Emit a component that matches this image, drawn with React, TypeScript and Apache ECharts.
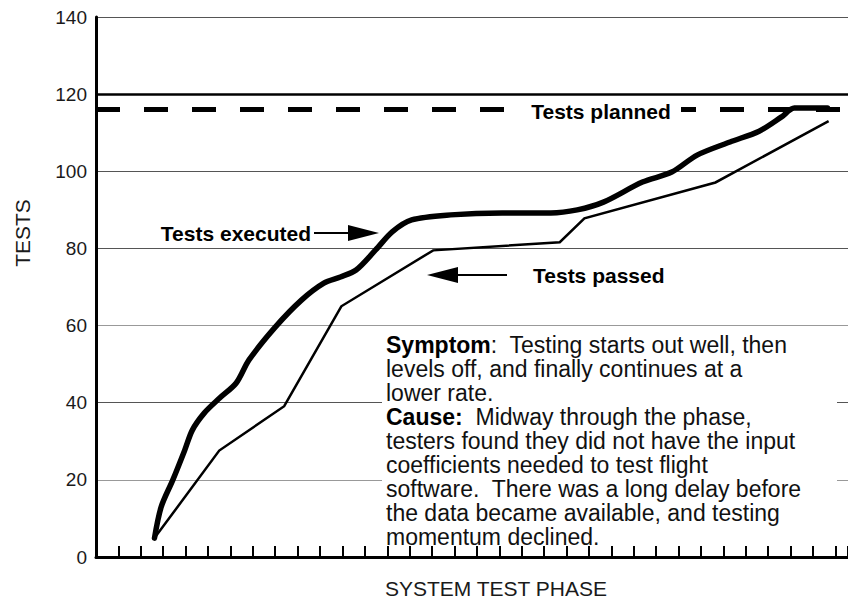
import React, { useEffect, useRef } from 'react';
import * as echarts from 'echarts';

// ---- data ----
const yTicks = [0, 20, 40, 60, 80, 100, 120, 140];
const plannedLevel = 116;
const ceilingLevel = 120;

// [phase position, tests]
const testsExecuted: [number, number][] = [
  [2.61, 4.9], [2.91, 13], [3.43, 20], [3.96, 27.7], [4.3, 32.9], [4.83, 37.3],
  [5.52, 41.2], [6.26, 45.1], [6.83, 51.1], [8.0, 59.6], [9.17, 66.6], [10.17, 71],
  [10.91, 72.6], [11.61, 74.4], [12.48, 79.6], [13.22, 84.3], [14.09, 87.4],
  [15.83, 88.7], [18.13, 89.2], [20.3, 89.2], [21.48, 90], [22.65, 92], [24.39, 97.2],
  [25.7, 99.8], [26.83, 104.2], [28.3, 107.6], [29.6, 110.4], [30.6, 114.1],
  [31.17, 116.4], [32.65, 116.4],
];

const testsPassed: [number, number][] = [
  [2.61, 4.9], [5.5, 27.6], [8.4, 39.1], [10.95, 65], [15.05, 79.5], [20.7, 81.6],
  [21.8, 87.8], [27.65, 97.1], [32.7, 113],
];

const yAxisTitle = 'TESTS';
const xAxisTitle = 'SYSTEM TEST PHASE';
const plannedLabel = 'Tests planned';
const executedLabel = 'Tests executed';
const passedLabel = 'Tests passed';
const noteText =
  '{b|Symptom}:  Testing starts out well, then\n' +
  'levels off, and finally continues at a\n' +
  'lower rate.\n' +
  '{b|Cause:}  Midway through the phase,\n' +
  'testers found they did not have the input\n' +
  'coefficients needed to test flight\n' +
  'software.  There was a long delay before\n' +
  'the data became available, and testing\n' +
  'momentum declined.';

const FONT = '"Liberation Sans", Arial, Helvetica, sans-serif';

export default function App() {
  const ref = useRef<HTMLDivElement>(null);
  useEffect(() => {
    if (!ref.current) return;
    const chart = echarts.init(ref.current, undefined, { renderer: 'svg' });
    const gridLeft = 96;
    const gridRight = -20;
    const unitPx = 23;
    const xMax = (848 - gridLeft - gridRight) / unitPx;

    chart.setOption({
      animation: false,
      backgroundColor: '#fff',
      grid: { left: gridLeft, right: gridRight, top: 17, bottom: 43, containLabel: false },
      xAxis: {
        type: 'value',
        min: 0,
        max: xMax,
        interval: 1,
        axisLine: { show: true, lineStyle: { color: '#000', width: 3 } },
        axisTick: { show: true, inside: true, length: 11, lineStyle: { color: '#000', width: 2 } },
        axisLabel: { show: false },
        splitLine: { show: false },
      },
      yAxis: {
        type: 'value',
        min: yTicks[0],
        max: yTicks[yTicks.length - 1],
        interval: 20,
        axisLine: { show: true, lineStyle: { color: '#000', width: 3 } },
        axisTick: { show: false },
        axisLabel: { color: '#1a1a1a', fontSize: 19, fontFamily: FONT, margin: 9 },
        splitLine: {
          show: true,
          lineStyle: { color: ['#000', '#999', '#555', '#999', '#555', '#555', '#000', '#555'], width: 1 },
        },
      },
      series: [
        {
          type: 'line',
          name: 'ceiling',
          data: [],
          markLine: {
            silent: true,
            symbol: 'none',
            label: { show: false },
            data: [
              { yAxis: ceilingLevel, lineStyle: { color: '#000', width: 2.5, type: 'solid' } },
              { yAxis: plannedLevel, lineStyle: { color: '#000', width: 5, type: [24, 24] } },
            ],
          },
        },
        {
          type: 'line',
          name: 'Tests passed',
          data: testsPassed,
          showSymbol: false,
          smooth: false,
          lineStyle: { color: '#000', width: 2.5, join: 'miter' },
          z: 3,
        },
        {
          type: 'line',
          name: 'Tests executed',
          data: testsExecuted,
          showSymbol: false,
          smooth: 0.3,
          lineStyle: { color: '#000', width: 5.5, cap: 'round', join: 'round' },
          z: 4,
        },
      ],
      graphic: [
        {
          type: 'text', x: 22, y: 233, rotation: Math.PI / 2, z: 100,
          style: { text: yAxisTitle, fontSize: 21, fontFamily: FONT, fill: '#1a1a1a', align: 'center', verticalAlign: 'middle' },
        },
        {
          type: 'text', x: 496, y: 588, z: 100,
          style: { text: xAxisTitle, fontSize: 21, fontFamily: FONT, fill: '#1a1a1a', align: 'center', verticalAlign: 'middle' },
        },
        { type: 'rect', z: 100, shape: { x: 506, y: 99, width: 175, height: 24 }, style: { fill: '#fff' } },
        {
          type: 'text', x: 601, y: 111, z: 101,
          style: { text: plannedLabel, fontSize: 21, fontWeight: 'bold', fontFamily: FONT, fill: '#000', align: 'center', verticalAlign: 'middle' },
        },
        {
          type: 'text', x: 311, y: 233, z: 100,
          style: { text: executedLabel, fontSize: 21, fontWeight: 'bold', fontFamily: FONT, fill: '#000', align: 'right', verticalAlign: 'middle' },
        },
        { type: 'line', z: 100, shape: { x1: 314, y1: 233, x2: 350, y2: 233 }, style: { stroke: '#000', lineWidth: 2 } },
        { type: 'polygon', z: 100, shape: { points: [[348, 225], [379, 233], [348, 241]] }, style: { fill: '#000' } },
        {
          type: 'text', x: 533, y: 275, z: 100,
          style: { text: passedLabel, fontSize: 21, fontWeight: 'bold', fontFamily: FONT, fill: '#000', align: 'left', verticalAlign: 'middle' },
        },
        { type: 'line', z: 100, shape: { x1: 456, y1: 275, x2: 507, y2: 275 }, style: { stroke: '#000', lineWidth: 2 } },
        { type: 'polygon', z: 100, shape: { points: [[458, 267], [427, 275], [458, 283]] }, style: { fill: '#000' } },
        { type: 'rect', z: 100, shape: { x: 382, y: 331, width: 455, height: 213 }, style: { fill: '#fff' } },
        {
          type: 'text', x: 386, y: 333, z: 101,
          style: {
            text: noteText,
            fontSize: 23,
            fontFamily: FONT,
            fill: '#111',
            lineHeight: 24,
            align: 'left',
            verticalAlign: 'top',
            rich: {
              b: { fontSize: 23, fontFamily: FONT, fontWeight: 'bold', fill: '#000', lineHeight: 24 },
            },
          },
        },
      ],
    });
    return () => chart.dispose();
  }, []);
  return (
    <div
      ref={ref}
      style={{ position: 'fixed', left: 0, top: 0, width: 848, height: 600, background: '#fff' }}
    />
  );
}
